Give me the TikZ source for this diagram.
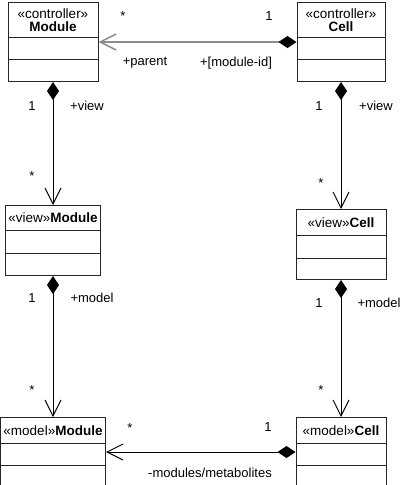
\documentclass[tikz,border=0pt]{standalone}
\usepackage{fontspec}
\setmainfont{Liberation Sans}
\usetikzlibrary{shapes.multipart, arrows.meta, positioning}

\begin{document}
\begin{tikzpicture}[x=1pt, y=-1pt,
  umlclass/.style={draw=black!85, line width=1pt, rectangle split, rectangle split parts=3,
    inner xsep=0pt, inner ysep=0pt, align=center, anchor=north,
    font=\fontsize{13.5}{13.7}\selectfont},
  rolelabel/.style={inner sep=0pt, font=\fontsize{13}{15}\selectfont},
  comp/.style={line width=1pt, {Diamond[length=18pt,width=12pt,color=black,line width=1pt]}-{Straight Barb[length=16pt,width=16pt]}}
]
\useasboundingbox (0,0) rectangle (403,485);

% controller layer
\node[umlclass, text width=90pt] (ctrlmod) at (53,2)
  {\rule{0pt}{15pt}«controller»\\\textbf{Module}\rule[-5.3pt]{0pt}{5.3pt}
   \nodepart{second}\rule{0pt}{21pt}\nodepart{third}\rule{0pt}{21pt}};
\node[umlclass, text width=88pt] (ctrlcell) at (341,2)
  {\rule{0pt}{15pt}«controller»\\\textbf{Cell}\rule[-5.3pt]{0pt}{5.3pt}
   \nodepart{second}\rule{0pt}{21pt}\nodepart{third}\rule{0pt}{21pt}};

% view layer
\node[umlclass, text width=95pt] (viewmod) at (53,205)
  {\rule[-7.2pt]{0pt}{24pt}«view»\textbf{Module}
   \nodepart{second}\rule{0pt}{22pt}\nodepart{third}\rule{0pt}{21pt}};
\node[umlclass, text width=90pt] (viewcell) at (341,209)
  {\rule[-7.7pt]{0pt}{25pt}«view»\textbf{Cell}
   \nodepart{second}\rule{0pt}{22pt}\nodepart{third}\rule{0pt}{20pt}};

% model layer
\node[umlclass, text width=105pt] (modelmod) at (53,417)
  {\rule[-7.7pt]{0pt}{25pt}«model»\textbf{Module}
   \nodepart{second}\rule{0pt}{21pt}\nodepart{third}\rule{0pt}{20pt}};
\node[umlclass, text width=90pt] (modelcell) at (341,417)
  {\rule[-7.7pt]{0pt}{25pt}«model»\textbf{Cell}
   \nodepart{second}\rule{0pt}{21pt}\nodepart{third}\rule{0pt}{20pt}};

% associations
\draw[comp, draw=black!45, line width=1.5pt] (ctrlcell.west) -- (ctrlmod.east);
\draw[comp] (ctrlmod.south) -- (viewmod.north);
\draw[comp] (ctrlcell.south) -- (viewcell.north);
\draw[comp] (viewmod.south) -- (modelmod.north);
\draw[comp] (viewcell.south) -- (modelcell.north);
\draw[comp] (modelcell.west) -- (modelmod.east);

% role names and multiplicities
\node[rolelabel] (m1) at (123,16) {*};
\node[rolelabel] (m2) at (269,16) {1};
\node[rolelabel] (r1) at (145,63) {+parent};
\node[rolelabel] (r2) at (236,63) {+[module-id]};
\node[rolelabel] (m3) at (32,106) {1};
\node[rolelabel] (r3) at (87,106) {+view};
\node[rolelabel] (m4) at (319,106) {1};
\node[rolelabel] (r4) at (376,106) {+view};
\node[rolelabel] (m5) at (32,176) {*};
\node[rolelabel] (m6) at (321,183) {*};
\node[rolelabel] (m7) at (32,298) {1};
\node[rolelabel] (r5) at (92,298) {+model};
\node[rolelabel] (m8) at (319,303) {1};
\node[rolelabel] (r6) at (379,303) {+model};
\node[rolelabel] (m9) at (32,390) {*};
\node[rolelabel] (m10) at (321,390) {*};
\node[rolelabel] (m11) at (130,428) {*};
\node[rolelabel] (m12) at (268,427) {1};
\node[rolelabel] (r7) at (210,473) {-modules/metabolites};
\end{tikzpicture}
\end{document}
